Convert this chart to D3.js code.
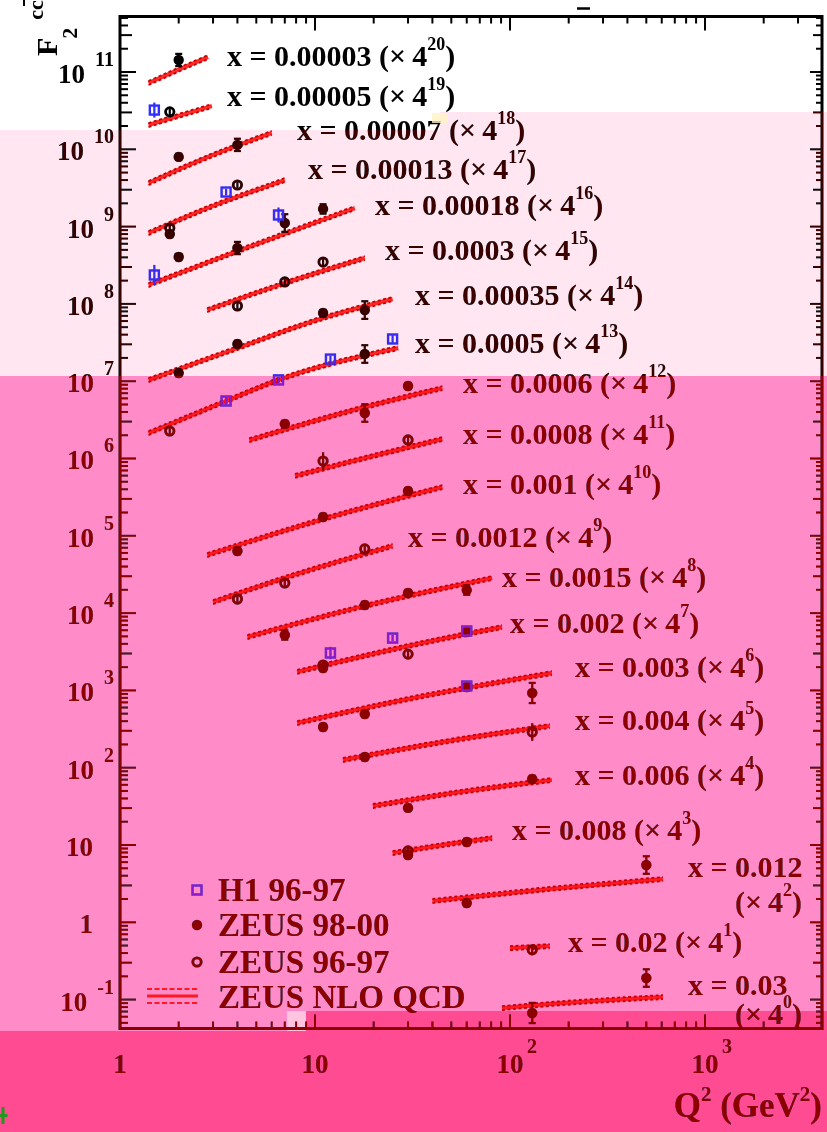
<!DOCTYPE html>
<html>
<head>
<meta charset="utf-8">
<script src="https://cdn.jsdelivr.net/npm/d3@7"></script>
<style>
  html, body { margin: 0; padding: 0; background: #fff; }
  svg { display: block; isolation: isolate; }
  text { font-family: "Liberation Serif", "Times New Roman", serif; font-weight: bold; }
</style>
</head>
<body>
<svg id="chart" width="827" height="1132"></svg>
<script>
// Bjorken-x bins and the power of 4 each bin is scaled by
const xBins = [0.00003, 0.00005, 0.00007, 0.00013, 0.00018, 0.0003, 0.00035, 0.0005,
               0.0006, 0.0008, 0.001, 0.0012, 0.0015, 0.002, 0.003, 0.004, 0.006,
               0.008, 0.012, 0.02, 0.03];
const scaleExp = [20, 19, 18, 17, 16, 15, 14, 13, 12, 11, 10, 9, 8, 7, 6, 5, 4, 3, 2, 1, 0];

// axis decades
const yTickExp = [-1, 0, 1, 2, 3, 4, 5, 6, 7, 8, 9, 10, 11];
const xTickExp = [0, 1, 2, 3];

// ZEUS NLO QCD prediction for F2cc (unscaled), per x bin
const nloQ2 = [
  [1.4, 2.0, 2.83], [1.4, 2.0, 2.96], [1.4, 3.0, 6.0], [1.4, 3.0, 7.0], [1.4, 4.0, 16],
  [2.8, 7.0, 18], [1.4, 4.0, 11, 25], [1.4, 3.5, 6.5, 26.7], [4.6, 18, 45], [7.9, 18, 45],
  [2.8, 11, 45], [3.0, 7.0, 25], [4.5, 18, 81], [8.1, 30, 91], [8.1, 30, 164],
  [13.9, 60, 160], [19.8, 60, 164], [25, 45, 81], [40, 160, 609], [100, 160], [91, 160, 609]
];
const nloF2 = [
  [0.0656, 0.0977, 0.142], [0.075, 0.0986, 0.132], [0.0533, 0.123, 0.237], [0.0481, 0.108, 0.233],
  [0.0409, 0.112, 0.405], [0.0776, 0.173, 0.366], [0.0386, 0.100, 0.245, 0.431],
  [0.0318, 0.0826, 0.155, 0.401], [0.103, 0.276, 0.487], [0.142, 0.242, 0.426],
  [0.0538, 0.157, 0.408], [0.0531, 0.109, 0.282], [0.0749, 0.189, 0.434], [0.106, 0.229, 0.403],
  [0.0924, 0.189, 0.410], [0.123, 0.236, 0.338], [0.125, 0.195, 0.271], [0.123, 0.156, 0.192],
  [0.118, 0.169, 0.227], [0.116, 0.123], [0.0778, 0.0877, 0.108]
];
// relative width of the theory uncertainty band
const nloBand = 0.06;

// measurements: [bin index, Q2, F2cc, relative error]
const h1 = [
  [1, 1.5, 0.117, 0.25], [3, 3.5, 0.163, 0.1], [4, 1.5, 0.0551, 0.35], [4, 6.5, 0.329, 0.25],
  [7, 3.5, 0.0826, 0.15], [7, 6.5, 0.155, 0.1], [7, 12, 0.288, 0.1], [7, 25, 0.524, 0.12],
  [13, 12, 0.186, 0.2], [13, 25, 0.290, 0.1], [13, 60, 0.358, 0.15], [14, 60, 0.278, 0.15]
];
const zeus9800 = [
  [0, 2.0, 0.130, 0.2],
  [2, 2.0, 0.116, 0.1], [2, 4.0, 0.166, 0.2],
  [3, 1.8, 0.0467, 0.1],
  [4, 2.0, 0.0942, 0.1], [4, 4.0, 0.123, 0.2], [4, 7.0, 0.259, 0.3], [4, 11, 0.394, 0.15],
  [6, 2.0, 0.0475, 0.1], [6, 4.0, 0.113, 0.1], [6, 11, 0.284, 0.1], [6, 18, 0.310, 0.3],
  [7, 18, 0.335, 0.3],
  [8, 7, 0.167, 0.1], [8, 18, 0.231, 0.3], [8, 30, 0.517, 0.1],
  [10, 4, 0.0606, 0.1], [10, 11, 0.167, 0.1], [10, 30, 0.362, 0.1],
  [12, 7, 0.0795, 0.15], [12, 18, 0.194, 0.1], [12, 30, 0.278, 0.1], [12, 60, 0.303, 0.15],
  [13, 11, 0.119, 0.1], [13, 60, 0.348, 0.1],
  [14, 11, 0.0821, 0.1], [14, 18, 0.121, 0.1], [14, 60, 0.27, 0.1], [14, 130, 0.226, 0.35],
  [15, 18, 0.134, 0.1],
  [16, 30, 0.118, 0.1], [16, 130, 0.279, 0.1],
  [17, 30, 0.116, 0.1], [17, 60, 0.171, 0.1],
  [18, 60, 0.111, 0.1], [18, 500, 0.344, 0.3],
  [20, 130, 0.0671, 0.35], [20, 500, 0.190, 0.3]
];
const zeus9697 = [
  [1, 1.8, 0.111, 0.1],
  [3, 1.8, 0.0558, 0.1], [3, 4.0, 0.201, 0.1],
  [5, 4, 0.0875, 0.1], [5, 7, 0.179, 0.1], [5, 11, 0.324, 0.1],
  [7, 1.8, 0.0338, 0.15],
  [9, 11, 0.221, 0.3], [9, 30, 0.414, 0.1],
  [11, 4, 0.0580, 0.15], [11, 7, 0.0935, 0.1], [11, 18, 0.258, 0.1],
  [13, 11, 0.130, 0.1], [13, 30, 0.180, 0.1],
  [15, 130, 0.283, 0.3],
  [17, 30, 0.131, 0.1],
  [19, 130, 0.110, 0.1]
];

const legendNames = ["H1 96-97", "ZEUS 98-00", "ZEUS 96-97", "ZEUS NLO QCD"];

// ---------------------------------------------------------------- layout
const W = 827, H = 1132;
const frame = { left: 120, right: 822, top: 16.5, bottom: 1028.5 };
const BLUE = "#2f2fff", RED = "#ff2a2a", DARKRED = "#c80000", INK = "#000";

const svg = d3.select("#chart");
svg.append("rect").attr("width", W).attr("height", H).attr("fill", "#fff");

const x = d3.scaleLog().domain([1, Math.pow(10, 3.6)]).range([frame.left, frame.right]);
const y = d3.scaleLog().domain([Math.pow(10, -1.374), Math.pow(10, 11.718)]).range([frame.bottom, frame.top]);
const scaled = (bin, v) => v * Math.pow(4, scaleExp[bin]);

const g = svg.append("g");

// ---------------------------------------------------------------- ticks
const ticks = g.append("g").attr("stroke", INK).attr("stroke-width", 2);
const yMinor = [];
for (let e = -2; e <= 11; e++) for (let m = 1; m <= 9; m++) {
  const v = m * Math.pow(10, e);
  if (v >= y.domain()[0] && v <= y.domain()[1]) yMinor.push([v, m]);
}
yMinor.forEach(([v, m]) => {
  const yy = y(v);
  const lenL = m === 1 ? 16 : (m === 3 ? 12 : 8);
  const lenR = m === 1 ? 12 : (m === 3 ? 9 : 6);
  ticks.append("line").attr("x1", frame.left).attr("x2", frame.left + lenL).attr("y1", yy).attr("y2", yy);
  ticks.append("line").attr("x1", frame.right).attr("x2", frame.right - lenR).attr("y1", yy).attr("y2", yy);
});
const xMinor = [];
for (let e = 0; e <= 3; e++) for (let m = 1; m <= 9; m++) {
  const v = m * Math.pow(10, e);
  if (v >= x.domain()[0] && v <= x.domain()[1]) xMinor.push([v, m]);
}
xMinor.forEach(([v, m]) => {
  const xx = x(v);
  const len = m === 1 ? 14 : 7;
  ticks.append("line").attr("x1", xx).attr("x2", xx).attr("y1", frame.bottom).attr("y2", frame.bottom - len);
  ticks.append("line").attr("x1", xx).attr("x2", xx).attr("y1", frame.top).attr("y2", frame.top + len);
});

// frame
g.append("rect")
  .attr("x", frame.left).attr("y", frame.top)
  .attr("width", frame.right - frame.left).attr("height", frame.bottom - frame.top)
  .attr("fill", "none").attr("stroke", INK).attr("stroke-width", 3);

// ---------------------------------------------------------------- tick labels
yTickExp.forEach(e => {
  const yy = y(Math.pow(10, e)) + 11;
  if (e === 0 || e === 1) {
    g.append("text").attr("x", 93).attr("y", yy).attr("text-anchor", "end")
      .attr("font-size", 27).attr("fill", INK).text(e === 0 ? "1" : "10");
  } else {
    const t = g.append("text").attr("x", 114).attr("y", yy).attr("text-anchor", "end")
      .attr("font-size", 27).attr("fill", INK);
    t.append("tspan").text("10");
    t.append("tspan").attr("dx", 10).attr("dy", -17).attr("font-size", 20).text(e);
  }
});
xTickExp.forEach(e => {
  const xx = x(Math.pow(10, e));
  const base = e === 0 ? "1" : "10";
  g.append("text").attr("x", xx).attr("y", 1073).attr("text-anchor", "middle")
    .attr("font-size", 27).attr("fill", INK).text(base);
  if (e >= 2) {
    g.append("text").attr("x", xx + 17).attr("y", 1053)
      .attr("font-size", 20).attr("fill", INK).text(e);
  }
});

// axis titles
const xt = g.append("text").attr("x", 822).attr("y", 1117).attr("text-anchor", "end")
  .attr("font-size", 35).attr("fill", INK);
xt.append("tspan").text("Q");
xt.append("tspan").attr("dy", -16).attr("font-size", 21).text("2");
xt.append("tspan").attr("dy", 16).text(" (GeV");
xt.append("tspan").attr("dy", -16).attr("font-size", 21).text("2");
xt.append("tspan").attr("dy", 16).text(")");

const yt = g.append("g").attr("transform", "translate(57,56) rotate(-90)");
const ytt = yt.append("text").attr("font-size", 30).attr("fill", INK);
ytt.append("tspan").text("F");
ytt.append("tspan").attr("dx", -1).attr("dy", 20).attr("font-size", 22).text("2");
ytt.append("tspan").attr("dx", 8).attr("dy", -34).attr("font-size", 22).text("cc");
yt.append("line").attr("x1", 50).attr("x2", 64).attr("y1", -33).attr("y2", -33)
  .attr("stroke", INK).attr("stroke-width", 2);

// ---------------------------------------------------------------- NLO curves
const line = d3.line().x(d => x(d[0])).y(d => y(d[1])).curve(d3.curveMonotoneX);
const curves = g.append("g").attr("fill", "none");
nloQ2.forEach((qs, i) => {
  const mid = qs.map((q, j) => [q, scaled(i, nloF2[i][j])]);
  const up = qs.map((q, j) => [q, scaled(i, nloF2[i][j] * (1 + nloBand))]);
  const dn = qs.map((q, j) => [q, scaled(i, nloF2[i][j] * (1 - nloBand))]);
  curves.append("path").attr("d", line(mid)).attr("stroke", RED).attr("stroke-width", 4);
  [up, dn].forEach(b => curves.append("path").attr("d", line(b))
    .attr("stroke", DARKRED).attr("stroke-width", 1.8).attr("stroke-dasharray", "3 2.5"));
});

// ---------------------------------------------------------------- data points
function errorBars(data, color, cap) {
  const eb = g.append("g").attr("stroke", color).attr("stroke-width", 2.2);
  data.forEach(([b, q, v, e]) => {
    const xx = x(q), y1 = y(scaled(b, v) * (1 + e)), y2 = y(scaled(b, v) / (1 + e));
    eb.append("line").attr("x1", xx).attr("x2", xx).attr("y1", y1).attr("y2", y2);
    if (cap) {
      eb.append("line").attr("x1", xx - cap).attr("x2", xx + cap).attr("y1", y1).attr("y2", y1);
      eb.append("line").attr("x1", xx - cap).attr("x2", xx + cap).attr("y1", y2).attr("y2", y2);
    }
  });
}
errorBars(zeus9800, INK, 3.5);
errorBars(zeus9697, INK, 0);
errorBars(h1, BLUE, 0);

g.append("g").selectAll("circle").data(zeus9800).join("circle")
  .attr("cx", d => x(d[1])).attr("cy", d => y(scaled(d[0], d[2]))).attr("r", 5.2).attr("fill", INK);
g.append("g").selectAll("circle").data(zeus9697).join("circle")
  .attr("cx", d => x(d[1])).attr("cy", d => y(scaled(d[0], d[2]))).attr("r", 4.2)
  .attr("fill", "none").attr("stroke", INK).attr("stroke-width", 2.8);
g.append("g").selectAll("rect").data(h1).join("rect")
  .attr("x", d => x(d[1]) - 4.5).attr("y", d => y(scaled(d[0], d[2])) - 4.5)
  .attr("width", 9).attr("height", 9)
  .attr("fill", "none").attr("stroke", BLUE).attr("stroke-width", 2.4);

// ---------------------------------------------------------------- bin labels
const labelPos = [
  [227, 66], [227, 106], [297, 140], [308, 179], [375, 215], [385, 260], [415, 305], [415, 353],
  [463, 393], [463, 444], [463, 494], [408, 547], [502, 587], [510, 633], [575, 677], [575, 730],
  [575, 785], [512, 840], [688, 877], [568, 952], [688, 995]
];
const wrapped = { 18: [735, 912], 20: [735, 1024] };
function scaleTag(t, i) {
  t.append("tspan").text("(\u00d7\u20094");
  t.append("tspan").attr("dy", -16).attr("font-size", 18).text(scaleExp[i]);
  t.append("tspan").attr("dy", 16).text(")");
}
xBins.forEach((xb, i) => {
  const [lx, ly] = labelPos[i];
  const t = g.append("text").attr("x", lx).attr("y", ly).attr("font-size", 30).attr("fill", INK);
  if (wrapped[i]) {
    t.text(`x = ${xb}`);
    const t2 = g.append("text").attr("x", wrapped[i][0]).attr("y", wrapped[i][1])
      .attr("font-size", 30).attr("fill", INK);
    scaleTag(t2, i);
  } else {
    t.append("tspan").text(`x = ${xb} `);
    scaleTag(t, i);
  }
});

// ---------------------------------------------------------------- legend
const lg = g.append("g");
const lgRows = [890, 925, 962, 997];
lg.append("rect").attr("x", 192.5).attr("y", lgRows[0] - 4.5).attr("width", 9).attr("height", 9)
  .attr("fill", "none").attr("stroke", BLUE).attr("stroke-width", 2.4);
lg.append("circle").attr("cx", 197).attr("cy", lgRows[1]).attr("r", 5.2).attr("fill", INK);
lg.append("circle").attr("cx", 197).attr("cy", lgRows[2]).attr("r", 4.2).attr("fill", "none")
  .attr("stroke", INK).attr("stroke-width", 2.8);
lg.append("line").attr("x1", 147).attr("x2", 198).attr("y1", lgRows[3] - 1).attr("y2", lgRows[3] - 1)
  .attr("stroke", RED).attr("stroke-width", 3.2);
[-8, 6].forEach(o => lg.append("line").attr("x1", 147).attr("x2", 198)
  .attr("y1", lgRows[3] + o).attr("y2", lgRows[3] + o)
  .attr("stroke", RED).attr("stroke-width", 2.2).attr("stroke-dasharray", "5 2.5"));
legendNames.forEach((n, i) => lg.append("text").attr("x", 218).attr("y", lgRows[i] + 11)
  .attr("font-size", 33).attr("fill", INK).text(n));

// small stray mark on top edge
g.append("line").attr("x1", 577).attr("x2", 590).attr("y1", 8.5).attr("y2", 8.5)
  .attr("stroke", INK).attr("stroke-width", 2.5);

// ---------------------------------------------------------------- tinted bands
// each band lifts the ink to a dark red and tints the paper
const bands = [
  { r: [0, 130, 440, 246], ink: "#3a0000", paper: "#ffe6f0" },
  { r: [440, 112, 387, 264], ink: "#3a0000", paper: "#ffe6f0" },
  { r: [0, 376, 827, 635], ink: "#8c0000", paper: "#ff8cc8" },
  { r: [0, 1011, 287, 20], ink: "#8c0000", paper: "#ff8cc8" },
  { r: [287, 1011, 19, 20], ink: "#8c0000", paper: "#ffc4e0" },
  { r: [306, 1011, 521, 20], ink: "#8c0000", paper: "#ff4b91" },
  { r: [0, 1031, 827, 101], ink: "#8c0000", paper: "#ff4b91" }
];
const tint = svg.append("g");
bands.forEach(b => {
  const [bx, by, bw, bh] = b.r;
  tint.append("rect").attr("x", bx).attr("y", by).attr("width", bw).attr("height", bh)
    .attr("fill", b.ink).style("mix-blend-mode", "lighten");
  tint.append("rect").attr("x", bx).attr("y", by).attr("width", bw).attr("height", bh)
    .attr("fill", b.paper).style("mix-blend-mode", "multiply");
});
svg.append("rect").attr("x", 432).attr("y", 113).attr("width", 16).attr("height", 10)
  .attr("fill", "#fff2c6").attr("opacity", 0.8);

// green cross marker at the lower-left corner
const cross = svg.append("g").attr("fill", "#1f9a1f");
cross.append("rect").attr("x", 1.5).attr("y", 1107).attr("width", 3).attr("height", 17);
cross.append("rect").attr("x", 0).attr("y", 1114).attr("width", 7.5).attr("height", 3);
</script>
</body>
</html>
